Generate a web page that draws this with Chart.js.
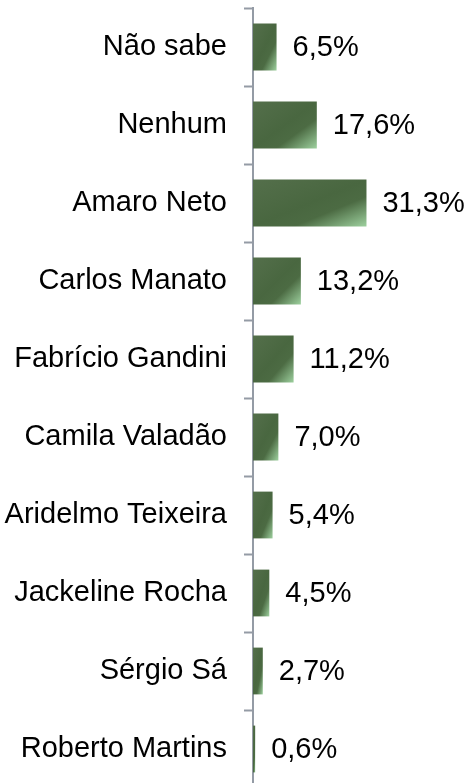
<!DOCTYPE html>
<html>
<head>
<meta charset="utf-8">
<script src="https://cdn.jsdelivr.net/npm/chart.js@4/dist/chart.umd.min.js"></script>
<style>
  html, body { margin: 0; padding: 0; background: #fff; overflow: hidden; }
  #wrap { width: 468px; height: 788px; }
</style>
</head>
<body>
<div id="wrap"><canvas id="chart1"></canvas></div>
<script>
const labels1 = ["Não sabe", "Nenhum", "Amaro Neto", "Carlos Manato", "Fabrício Gandini",
  "Camila Valadão", "Aridelmo Teixeira", "Jackeline Rocha", "Sérgio Sá", "Roberto Martins"];
const values1 = [6.5, 17.6, 31.3, 13.2, 11.2, 7.0, 5.4, 4.5, 2.7, 0.6];

const fontFamily = "'Liberation Sans', Arial, sans-serif";
const fontSize = 29;

// gradient in bar box coords, light corner at bottom right
function barFill(context) {
  const chart = context.chart;
  const xs = chart.scales.x, ys = chart.scales.y;
  if (!chart.chartArea || !xs || !ys) return "#4a6a40";
  const i = context.dataIndex;
  const left = xs.getPixelForValue(0);
  const right = xs.getPixelForValue(values1[i]);
  const h = (ys.getPixelForValue(1) - ys.getPixelForValue(0)) * 0.6;
  const top = ys.getPixelForValue(i) - h / 2;
  const w = Math.max(right - left, 1);
  const k = 2 / (1 / (w * w) + 1 / (h * h));
  const g = chart.ctx.createLinearGradient(left, top, left + k / w, top + k / h);
  g.addColorStop(0, "#546f4b");
  g.addColorStop(0.5, "#496740");
  g.addColorStop(0.68, "#4c6b43");
  g.addColorStop(1, "#9dd09e");
  return g;
}

const valueLabels = {
  id: "valueLabels",
  afterDatasetsDraw(chart) {
    const ctx = chart.ctx;
    const meta = chart.getDatasetMeta(0);
    ctx.save();
    ctx.font = fontSize + "px " + fontFamily;
    ctx.fillStyle = "#000";
    ctx.textAlign = "left";
    ctx.textBaseline = "middle";
    meta.data.forEach((bar, i) => {
      const txt = values1[i].toFixed(1).replace(".", ",") + "%";
      ctx.fillText(txt, bar.x + 16, bar.y + 1);
    });
    ctx.restore();
  }
};

const data1 = {
  labels: labels1,
  datasets: [
    {
      data: values1,
      backgroundColor: barFill,
      borderWidth: 0,
      categoryPercentage: 1,
      barPercentage: 0.6,
    },
  ],
};

const config1 = {
  type: "bar",
  data: data1,
  options: {
    indexAxis: "y",
    responsive: true,
    maintainAspectRatio: false,
    animation: false,
    layout: { padding: { top: 8, right: 0, bottom: 0, left: 0 } },
    plugins: {
      legend: { display: false },
      tooltip: { enabled: false },
    },
    scales: {
      x: {
        display: false,
        min: 0,
        max: 59.3,
      },
      y: {
        afterFit(scale) {
          scale.width = 253;
          scale.paddingTop = 0;
          scale.paddingBottom = 0;
        },
        border: { display: true, color: "#949ba5", width: 2 },
        grid: {
          offset: true,
          drawOnChartArea: false,
          drawTicks: true,
          tickLength: 9,
          tickColor: "#949ba5",
          tickWidth: 2,
        },
        ticks: {
          color: "#000",
          padding: 17,
          font: { family: fontFamily, size: fontSize },
        },
      },
    },
  },
  plugins: [valueLabels],
};

const myChart1 = new Chart(document.getElementById("chart1"), config1);
</script>
</body>
</html>
